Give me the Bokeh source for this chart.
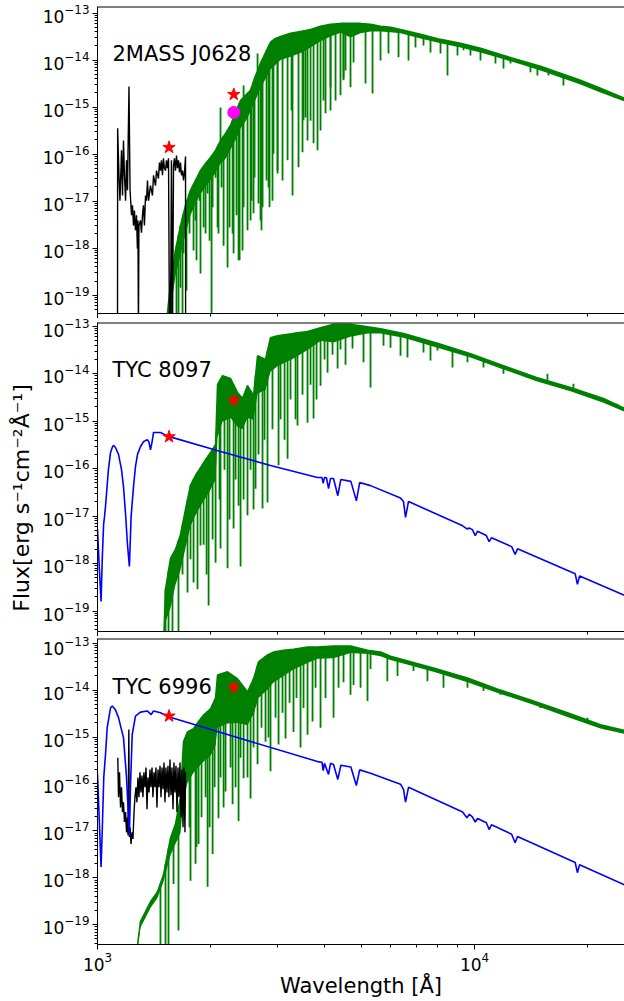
import numpy as np
from bokeh.plotting import figure
from bokeh.layouts import column
from bokeh.models import FixedTicker, Label, Range1d, Span
from bokeh.embed import file_html
from bokeh.resources import INLINE

FONT = "DejaVu Sans"

# ---------------- data ----------------
panel_names = ["2MASS J0628", "TYC 8097", "TYC 6996"]

# ---- panel 1 : 2MASS J0628 ----
green1_wl = [1515, 1562, 1610, 1660, 1712, 1765, 1820, 1876, 1935, 1995, 2057, 2120, 2186, 2254, 2324,
             2396, 2470, 2547, 2626, 2707, 2791, 2877, 2967, 3059, 3251, 3456, 3674, 3905, 4151, 4412,
             4690, 4986, 5300, 5633, 5988, 6365, 7192, 8126, 9181, 10374, 11721, 13243, 14963, 16906,
             19103, 21584, 24990]
green1_top_log10 = [-19.8, -18.75, -18.05, -17.52, -17.09, -16.77, -16.56, -16.35, -16.20, -16.07, -15.92,
                    -15.71, -15.56, -15.39, -15.11, -14.86, -14.75, -14.64, -14.33, -14.07, -13.84, -13.62,
                    -13.54, -13.50, -13.43, -13.39, -13.35, -13.28, -13.24, -13.22, -13.22, -13.22, -13.24,
                    -13.28, -13.30, -13.35, -13.45, -13.56, -13.64, -13.75, -13.88, -14.01, -14.13, -14.28,
                    -14.43, -14.60, -14.81]
green1_core_log10 = [-19.8, -19.3, -18.6, -18.15, -17.7, -17.3, -17.05, -16.85, -16.7, -16.55, -16.4,
                     -16.2, -16.1, -15.9, -15.7, -15.45, -15.3, -15.1, -14.85, -14.6, -14.4, -14.2,
                     -14.1, -14.0, -13.93, -13.85, -13.73, -13.6, -13.5, -13.42, -13.52, -13.43, -13.39,
                     -13.39, -13.41, -13.43, -13.54, -13.64, -13.73, -13.84, -13.96, -14.09, -14.22, -14.37,
                     -14.52, -14.69, -14.88]
lines1_wl = [1534, 1571, 1620, 1681, 2007, 1660, 1722, 1798, 1831, 1876, 1935, 1983, 2082, 2160, 2213,
             2282, 2338, 2367, 2425, 2500, 2563, 2594, 2674, 2723, 2741, 2842, 2912, 3004, 3096, 3193,
             3291, 3414, 3498, 3563, 3607, 3674, 3742, 3834, 3905, 4026, 4151, 4280, 4412, 4494, 4549,
             4690, 4778, 5140, 5365, 5633, 5914, 6288, 6683, 6975, 7325, 7644, 8126, 8481, 9014, 9351,
             9759, 10374, 11368, 11938, 12459, 14077, 14690, 15713, 17218, 18755, 20305, 22534, 23376,
             2120, 2441, 2658,
             1610, 1640, 1691, 1733, 1754, 1787, 1820, 1865, 1912, 1959, 2020, 2057, 2094, 2133, 2240,
             2296, 2382, 2441, 2547, 2610, 2707, 2808, 2860, 2930, 3003, 3271, 3520, 3977, 4151, 4494]
lines1_log10 = [-19.8, -19.8, -19.8, -19.8, -19.8, -18.84, -18.9, -18.05, -18.26, -18.54, -17.69, -17.84,
                -17.56, -17.95, -18.41, -17.69, -17.30, -18.26, -18.05, -17.62, -16.99, -17.26, -17.05,
                -17.62, -17.13, -16.71, -16.99, -16.41, -16.56, -16.13, -16.88, -16.28, -15.96, -15.22,
                -15.71, -15.29, -15.77, -15.92, -15.50, -15.13, -15.07, -14.86, -14.75, -14.39, -14.22,
                -14.58, -14.05, -14.50, -14.71, -14.01, -13.86, -13.94, -14.01, -13.73, -13.69, -13.84,
                -13.86, -14.33, -13.90, -13.79, -13.90, -14.01, -14.07, -14.18, -14.07, -14.26, -14.33,
                -14.33, -14.54, -14.47, -14.58, -14.69, -14.79,
                -15.01, -14.54, -13.86,
                -18.54, -19.8, -18.11, -17.26, -17.69, -16.84, -17.41, -16.99, -17.56, -16.84, -17.13,
                -16.50, -17.69, -16.71, -17.56, -18.11, -18.26, -17.13, -17.41, -16.50, -17.41, -16.56,
                -17.13, -15.99, -16.35, -15.07, -15.28, -14.86, -14.58, -14.43]
black1_wl = [1130, 1131, 1140, 1147, 1158, 1165, 1172, 1179, 1187, 1194, 1201, 1212, 1220, 1231, 1238,
             1246, 1253, 1261, 1269, 1276, 1280, 1284, 1288, 1300, 1308, 1316, 1324, 1332, 1341, 1349,
             1357, 1366, 1382, 1399, 1408, 1425, 1434, 1451, 1460, 1469, 1478, 1487, 1496, 1505, 1515,
             1524, 1533, 1543, 1552, 1562, 1571, 1581, 1591, 1600, 1610, 1620, 1630, 1640, 1650, 1660,
             1670, 1681, 1691, 1701, 1712, 1713]
black1_log10 = [-19.8, -15.45, -16.45, -16.99, -15.92, -16.88, -15.71, -16.45, -16.99, -16.13, -16.77,
                -14.56, -16.77, -17.30, -17.09, -17.52, -17.20, -17.62, -17.30, -18.01, -17.41, -19.8,
                -17.52, -17.41, -17.67, -17.30, -17.09, -17.52, -16.88, -16.99, -16.56, -16.99, -16.67,
                -16.88, -16.45, -16.67, -16.35, -16.52, -16.18, -16.35, -16.13, -16.45, -16.09, -16.30,
                -16.35, -16.13, -16.30, -16.09, -19.8, -19.8, -16.13, -19.8, -16.24, -16.09, -16.35,
                -16.03, -16.30, -16.13, -16.39, -16.18, -16.45, -16.35, -16.56, -16.39, -16.05, -19.8]
phot1_wl = [1548, 2299]
phot1_flux = [1.39e-16, 1.86e-15]
extra1_wl = [2299]
extra1_flux = [7.7e-16]

# ---- panel 2 : TYC 8097 ----
green2_wl = [1496, 1515, 1562, 1610, 1660, 1712, 1765, 1820, 1876, 1935, 1995, 2057, 2082, 2146, 2254,
             2353, 2425, 2500, 2594, 2658, 2791, 2877, 3003, 3311, 3607, 3905, 4228, 4690, 5203, 5633,
             6481, 7978, 9759, 11938, 14603, 17971, 21979, 24990]
green2_top_log10 = [-19.8, -18.54, -17.89, -17.70, -17.39, -16.86, -16.35, -16.14, -15.98, -15.81, -15.66,
                    -15.49, -14.23, -14.04, -14.10, -14.40, -14.52, -14.25, -14.46, -13.62, -13.70, -13.24,
                    -13.20, -13.15, -13.11, -13.03, -12.96, -12.96, -13.01, -13.05, -13.15, -13.36, -13.58,
                    -13.83, -14.08, -14.29, -14.52, -14.73]
green2_core_log10 = [-19.8, -19.23, -18.94, -18.45, -18.14, -17.67, -17.21, -16.98, -16.79, -16.62, -16.44,
                     -16.24, -15.33, -15.01, -14.93, -15.12, -15.17, -14.93, -14.97, -14.42, -14.34, -13.96,
                     -13.84, -13.68, -13.50, -13.31, -13.34, -13.22, -13.15, -13.15, -13.24, -13.45, -13.66,
                     -13.91, -14.16, -14.37, -14.61, -14.80]
lines2_wl = [1515, 1543, 1581, 1640, 1733, 1798, 1876, 1971, 2057, 2120, 2213, 2296, 2367, 2396, 2500,
             2594, 2626, 2740, 2825, 3022, 3193, 3393, 3607, 3742, 3905, 4076, 4334, 4747, 5078, 5300,
             5737, 5988, 6365, 6642, 7325, 7644, 7978, 8743, 9582, 10566, 11938, 12845, 14336, 15617,
             17113, 18302, 21192, 23947,
             1681, 1765, 1842, 1912, 1947, 2020, 2107, 2172, 2240, 2324, 2441, 2547, 2674, 2774, 2912,
             3059, 3135, 3251, 3352, 3498, 3674, 3811, 4002, 4202, 4412, 4549]
lines2_log10 = [-19.8, -19.8, -19.8, -19.8, -18.61, -18.40, -17.62, -18.88, -17.98, -17.68, -18.10, -17.26,
                -16.78, -18.06, -16.98, -16.86, -16.42, -16.84, -16.71, -15.93, -15.79, -15.09, -15.03,
                -14.94, -14.25, -13.98, -13.89, -13.47, -13.76, -14.29, -13.41, -13.45, -13.62, -13.66,
                -13.55, -13.72, -13.51, -13.87, -13.76, -13.87, -14.00, -13.97, -14.10, -14.00, -14.29,
                -14.21, -14.52, -14.63,
                -18.23, -17.91, -18.54, -17.60, -18.23, -17.49, -16.65, -16.02, -17.07, -16.23, -16.65,
                -16.02, -15.70, -15.39, -15.17, -14.96, -15.39, -14.54, -14.96, -14.44, -14.23, -14.54,
                -13.70, -13.60, -13.49, -13.81]
wd2_wl = [1000, 1010, 1022, 1030, 1038, 1044, 1050, 1069, 1083, 1096, 1103, 1116, 1137, 1158, 1172, 1187,
          1201, 1215, 1228, 1246, 1261, 1277, 1300, 1324, 1355, 1370, 1382, 1395, 1408, 1469, 1543, 2120,
          2877, 3833, 3940, 3970, 4000, 4050, 4101, 4150, 4227, 4340, 4420, 4700, 4861, 4960, 5299, 6364,
          6482, 6563, 6683, 9302, 9546, 9698, 9870, 10049, 10186, 10750, 10938, 11094, 12550, 12818,
          13004, 18500, 18751, 19000, 25000]
wd2_flux = [5.3e-18, 9.6e-19, 1.6e-19, 1.4e-18, 6.7e-18, 9.9e-18, 1.6e-17, 9.6e-17, 2.2e-16, 2.9e-16,
            3.1e-16, 2.8e-16, 2.0e-16, 9.6e-17, 4.2e-17, 1.1e-17, 2.5e-18, 8.7e-19, 9.9e-18, 4.2e-17,
            1.1e-16, 2.0e-16, 2.9e-16, 3.7e-16, 4.1e-16, 3.6e-16, 2.5e-16, 3.6e-16, 5.8e-16, 5.8e-16,
            4.8e-16, 2.3e-16, 1.17e-16, 6.5e-17, 6.5e-17, 4.9e-17, 6.5e-17, 6.4e-17, 3.8e-17, 6.2e-17,
            6.2e-17, 2.7e-17, 5.9e-17, 5.4e-17, 2.1e-17, 5.1e-17, 4.4e-17, 2.4e-17, 2.04e-17, 9.4e-18,
            2.04e-17, 6.25e-18, 5.4e-18, 5.6e-18, 5.2e-18, 3.9e-18, 4.8e-18, 3.9e-18, 2.9e-18, 3.5e-18,
            2.28e-18, 1.56e-18, 2.05e-18, 6.1e-19, 3.65e-19, 5.5e-19, 2.14e-19]
phot2_wl = [1548, 2299]
phot2_flux = [4.7e-16, 2.77e-15]

# ---- panel 3 : TYC 6996 ----
green3_wl = [1261, 1300, 1341, 1382, 1442, 1496, 1562, 1610, 1660, 1691, 1733, 1798, 1854, 1912, 1995,
             2057, 2082, 2213, 2353, 2500, 2594, 2674, 2825, 2930, 3115, 3311, 3607, 3834, 4228, 4690,
             5203, 5633, 5988, 7785, 9582, 11721, 14336, 17645, 21584, 24990]
green3_top_log10 = [-19.8, -18.93, -18.72, -18.51, -18.30, -17.94, -17.15, -16.86, -16.28, -15.10, -14.89,
                    -14.82, -14.67, -14.53, -14.40, -14.17, -13.68, -13.61, -13.76, -14.04, -13.76, -13.40,
                    -13.25, -13.19, -13.15, -13.13, -13.08, -13.08, -13.06, -13.06, -13.15, -13.19, -13.28,
                    -13.53, -13.74, -14.00, -14.23, -14.48, -14.74, -14.86]
green3_core_log10 = [-19.8, -19.06, -18.85, -18.64, -18.43, -18.09, -17.52, -17.28, -17.05, -16.32, -15.98,
                     -15.76, -15.64, -15.52, -15.40, -15.18, -14.80, -14.71, -14.70, -14.75, -14.51, -14.17,
                     -13.99, -13.84, -13.70, -13.56, -13.42, -13.33, -13.32, -13.21, -13.23, -13.28, -13.36,
                     -13.61, -13.83, -14.08, -14.31, -14.57, -14.82, -14.93]
lines3_wl = [1469, 1515, 1543, 1640, 1591, 1765, 1820, 1854, 1959, 2020, 2094, 2186, 2282, 2367, 2441,
             2547, 2658, 2791, 2877, 3022, 3154, 3311, 3456, 3607, 3719, 3905, 4228, 4494, 4690, 4778,
             4986, 5203, 5300, 5873, 6250, 6891, 7503, 8276, 9582, 10566, 11721, 12694, 14963, 19939, 22253,
             1754, 1831, 1888, 1935, 1983, 2045, 2120, 2160, 2254, 2324, 2396, 2500, 2594, 2723, 2842,
             2967, 3096, 3232, 3372, 3520, 3788, 4026, 4359]
lines3_log10 = [-19.8, -19.8, -19.8, -19.12, -18.13, -18.06, -17.70, -17.28, -18.19, -17.49, -16.73,
                -16.16, -16.43, -16.79, -15.88, -16.31, -15.58, -15.10, -15.73, -15.16, -15.03, -14.89,
                -15.22, -14.95, -14.67, -14.80, -14.59, -13.83, -14.10, -13.89, -13.95, -14.23, -13.55,
                -13.81, -13.70, -13.59, -13.81, -13.95, -13.95, -14.02, -14.10, -14.17, -14.38, -14.59,
                -14.84,
                -16.92, -17.34, -16.71, -16.28, -16.92, -16.07, -15.86, -16.50, -15.65, -16.07, -15.44,
                -15.86, -15.22, -14.80, -15.01, -14.59, -14.48, -14.27, -14.17, -14.38, -13.95, -14.17,
                -13.95]
black3_wl = [1132, 1137, 1144, 1151, 1158, 1165, 1172, 1179, 1187, 1194, 1201, 1205, 1211, 1215, 1220,
             1227, 1235, 1242, 1250, 1257, 1265, 1272, 1280, 1288, 1296, 1304, 1312, 1320, 1328, 1337,
             1345, 1353, 1361, 1370, 1378, 1386, 1395, 1403, 1412, 1421, 1429, 1438, 1447, 1456, 1465,
             1474, 1483, 1492, 1501, 1510, 1519, 1529, 1538, 1547, 1557, 1566, 1576, 1586, 1595, 1605,
             1615, 1625, 1635, 1645, 1655, 1665, 1675, 1686, 1696, 1706, 1712]
black3_log10 = [-15.44, -16.28, -15.75, -16.50, -16.07, -16.60, -16.39, -16.81, -16.60, -17.03, -16.71,
                -17.09, -14.84, -17.13, -16.92, -17.28, -17.03, -17.17, -16.60, -16.28, -16.07, -16.39,
                -15.86, -16.28, -15.75, -16.18, -15.82, -16.28, -15.75, -16.07, -15.65, -16.54, -15.86,
                -16.18, -15.69, -16.07, -15.65, -16.28, -15.75, -16.07, -15.65, -16.50, -15.69, -16.07,
                -15.61, -16.28, -15.65, -16.11, -15.54, -16.39, -15.65, -16.18, -15.61, -16.28, -15.48,
                -16.24, -15.65, -16.54, -15.54, -16.18, -15.61, -16.60, -15.65, -16.28, -15.54, -16.71,
                -15.69, -16.92, -15.65, -17.03, -15.75]
wd3_wl = [1000, 1022, 1030, 1039, 1050, 1061, 1083, 1094, 1116, 1137, 1172, 1194, 1215, 1223, 1236, 1261,
          1300, 1355, 1388, 1408, 1469, 1543, 3833, 3940, 3970, 4000, 4101, 4150, 4227, 4340, 4420, 4700,
          4861, 4960, 5299, 6364, 6482, 6563, 6683, 9302, 9546, 9698, 9870, 10049, 10186, 10750, 10938,
          11094, 12550, 12818, 13004, 18500, 18751, 19000, 25000]
wd3_flux = [1.62e-16, 1.71e-18, 1.2e-17, 1.38e-16, 4.2e-16, 1.58e-15, 4.2e-15, 4.6e-15, 3.8e-15, 2.6e-15,
            9.7e-16, 1.38e-16, 8.1e-18, 8.5e-17, 1.12e-15, 2.8e-15, 3.4e-15, 3.6e-15, 3.0e-15, 3.6e-15,
            3.3e-15, 2.7e-15, 3.0e-16, 2.9e-16, 1.93e-16, 2.75e-16, 1.6e-16, 2.75e-16, 2.6e-16, 1.25e-16,
            2.5e-16, 2.3e-16, 9.3e-17, 2.0e-16, 1.7e-16, 9.9e-17, 7.7e-17, 4.1e-17, 8.5e-17, 2.53e-17,
            1.91e-17, 2.26e-17, 2.0e-17, 1.55e-17, 1.84e-17, 1.49e-17, 1.07e-17, 1.35e-17, 8.5e-18,
            5.6e-18, 7.6e-18, 2.12e-18, 1.29e-18, 1.9e-18, 7.1e-19]
phot3_wl = [1548, 2299]
phot3_flux = [2.8e-15, 1.15e-14]

# axis ticks
x_major = [1e3, 1e4]
x_minor = [2e3, 3e3, 4e3, 5e3, 6e3, 7e3, 8e3, 9e3, 2e4]
y_major = [1e-19, 1e-18, 1e-17, 1e-16, 1e-15, 1e-14, 1e-13]
y_minor = [m * 10.0 ** e for e in range(-20, -12) for m in range(2, 10)]

GREEN = "#008000"
BLUE = "#0000ff"


def make_panel(frame_h, ylo, yhi, top_border, bottom_labels, ylabel=None):
    p = figure(x_axis_type="log", y_axis_type="log",
               x_range=Range1d(1000, 25000), y_range=Range1d(ylo, yhi),
               frame_width=527, frame_height=frame_h,
               min_border_left=97, min_border_right=0, min_border_top=top_border, min_border_bottom=0,
               output_backend="svg", toolbar_location=None,
               outline_line_color=None, background_fill_color="white", border_fill_color="white")
    p.grid.visible = False
    for ax, maj, mnr in ((p.xaxis[0], x_major, x_minor), (p.yaxis[0], y_major, y_minor)):
        ax.ticker = FixedTicker(ticks=maj, minor_ticks=mnr)
        ax.axis_line_color = "black"
        ax.major_tick_line_color = "black"
        ax.minor_tick_line_color = "black"
        ax.major_tick_in = 0
        ax.major_tick_out = 5
        ax.minor_tick_in = 0
        ax.minor_tick_out = 3
        ax.major_label_text_font = FONT
        ax.major_label_text_font_size = "17px"
        ax.major_label_text_color = "black"
        ax.major_label_standoff = 3
    if not bottom_labels:
        p.xaxis.major_label_overrides = {1000: "", 10000: ""}
        p.xaxis.major_label_text_font_size = "2px"
        p.xaxis.major_label_standoff = 0
    else:
        p.xaxis.major_label_standoff = 2
        p.xaxis.axis_label = "Wavelength [Å]"
        p.xaxis.axis_label_text_font = FONT
        p.xaxis.axis_label_text_font_size = "21px"
        p.xaxis.axis_label_text_font_style = "normal"
        p.xaxis.axis_label_text_color = "black"
        p.xaxis.axis_label_standoff = 0
    if ylabel:
        p.yaxis.axis_label = ylabel
        p.yaxis.axis_label_text_font = FONT
        p.yaxis.axis_label_text_font_size = "22px"
        p.yaxis.axis_label_text_font_style = "normal"
        p.yaxis.axis_label_text_color = "black"
        p.yaxis.axis_label_standoff = 6
    p.add_layout(Span(location=yhi, dimension="width", line_color="black", line_width=2))
    return p


def draw_green(p, wl, top_log, core_log, lw, llog):
    wl = np.asarray(wl, float)
    top = 10.0 ** np.asarray(top_log)
    core = 10.0 ** np.asarray(core_log)
    p.varea(x=wl, y1=core, y2=top, fill_color=GREEN)
    p.line(wl, top, line_color=GREEN, line_width=1.6)
    lw = np.asarray(lw, float)
    start = np.interp(np.log10(lw), np.log10(wl), np.asarray(top_log))
    p.segment(x0=lw, y0=10.0 ** start, x1=lw, y1=10.0 ** np.asarray(llog),
              line_color=GREEN, line_width=1.8)


def add_name(p, text, y):
    p.add_layout(Label(x=1096, y=y, text=text, text_font=FONT, text_font_size="21px",
                       text_baseline="middle", text_color="black"))


ylab = "Flux[erg s\u207b\u00b9cm\u207b\u00b2\u00c5\u207b\u00b9]" + "\u00a0" * 6

p1 = make_panel(307, 10 ** -19.39, 10 ** -12.86, 6, False)
p2 = make_panel(309, 10 ** -19.43, 10 ** -12.92, 4, False, ylabel=ylab)
p3 = make_panel(306, 10 ** -19.42, 10 ** -12.90, 2, True)

# panel 1
draw_green(p1, green1_wl, green1_top_log10, green1_core_log10, lines1_wl, lines1_log10)
p1.line(black1_wl, 10.0 ** np.asarray(black1_log10), line_color="black", line_width=1.4)
p1.scatter(phot1_wl, phot1_flux, marker="star", size=13, fill_color="red", line_color="red")
p1.scatter(extra1_wl, extra1_flux, marker="circle", size=12, fill_color="#ff00ff", line_color="#ff00ff")
add_name(p1, panel_names[0], 10 ** -13.86)

# panel 2
draw_green(p2, green2_wl, green2_top_log10, green2_core_log10, lines2_wl, lines2_log10)
p2.line(wd2_wl, wd2_flux, line_color=BLUE, line_width=1.6)
p2.scatter(phot2_wl, phot2_flux, marker="star", size=13, fill_color="red", line_color="red")
add_name(p2, panel_names[1], 10 ** -13.93)

# panel 3
draw_green(p3, green3_wl, green3_top_log10, green3_core_log10, lines3_wl, lines3_log10)
p3.line(black3_wl, 10.0 ** np.asarray(black3_log10), line_color="black", line_width=1.4)
p3.line(wd3_wl, wd3_flux, line_color=BLUE, line_width=1.6)
p3.scatter(phot3_wl, phot3_flux, marker="star", size=13, fill_color="red", line_color="red")
add_name(p3, panel_names[2], 10 ** -13.93)

layout = column(p1, p2, p3, spacing=0)
open("out.html", "w").write(file_html(layout, INLINE))
